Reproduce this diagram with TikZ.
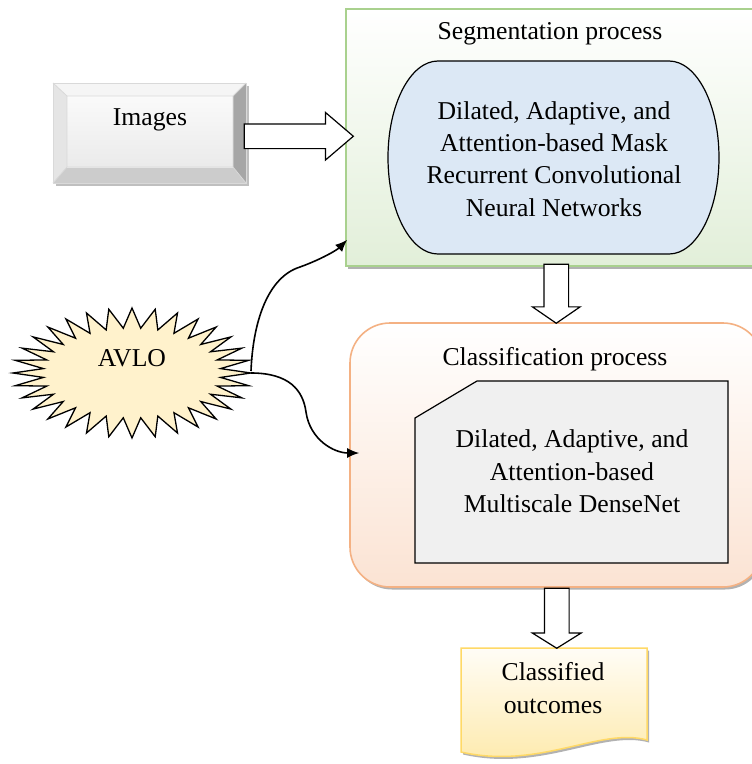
\documentclass[tikz,border=0pt]{standalone}
\usepackage{fontspec}
\setmainfont{Liberation Serif}
\usetikzlibrary{arrows.meta,shapes.arrows,shadows,calc}
\definecolor{segborder}{HTML}{A9D18E}
\definecolor{segfill}{HTML}{E2EFD9}
\definecolor{netfill}{HTML}{DCE8F5}
\definecolor{clsborder}{HTML}{F4B183}
\definecolor{clsfill}{HTML}{FBE3D3}
\definecolor{densefill}{HTML}{F0F0F0}
\definecolor{docborder}{HTML}{FFD966}
\definecolor{docfill}{HTML}{FEE9A8}
\definecolor{starfill}{HTML}{FFF2CC}
\tikzset{
  softshadow/.style={drop shadow={shadow xshift=2pt,shadow yshift=-2.5pt,fill=black,opacity=0.3}},
  segbox/.style={draw=segborder,line width=1.6pt,top color=white,bottom color=segfill,softshadow},
  clsbox/.style={draw=clsborder,line width=1.6pt,top color=white,bottom color=clsfill,rounded corners=40pt,softshadow},
  netshape/.style={draw=black,line width=1.2pt,fill=netfill},
  denseshape/.style={draw=black,line width=1.2pt,fill=densefill},
  docshape/.style={draw=docborder,line width=1.5pt,top color=white!90!docfill,bottom color=docfill,softshadow},
  starshape/.style={draw=black,line width=1.3pt,fill=starfill},
  holder/.style={inner sep=0pt,outer sep=0pt},
  blockarrow/.style={single arrow,draw=black,fill=white,line width=1.2pt,inner sep=11.75pt,outer sep=0pt},
  conn/.style={line width=1.6pt,-{Latex[length=12pt,width=10pt]}},
  txt/.style={align=center,inner sep=0pt}
}
\begin{document}
\begin{tikzpicture}[x=1pt,y=-1pt,font=\fontsize{25.7}{32.3}\selectfont]
\useasboundingbox[fill=white] (0,0) rectangle (752,764);

% ---------- Images (bevel) ----------
\node[holder,minimum width=193pt,minimum height=100pt] (img) at (149.5,133) {};
\fill[black!25] (56,86) rectangle (249,186);
\fill[black!4] (53,83) -- (246,83) -- (233,96) -- (67,96) -- cycle;
\fill[black!10] (53,83) -- (67,96) -- (67,167) -- (53,183) -- cycle;
\fill[black!20] (53,183) -- (67,167) -- (233,167) -- (246,183) -- cycle;
\fill[black!35] (246,83) -- (246,183) -- (233,167) -- (233,96) -- cycle;
\shade[top color=black!2,bottom color=black!8] (67,96) rectangle (233,167);
\draw[black!15,line width=1pt] (53,83) rectangle (246,183);
\draw[black!15,line width=0.8pt] (67,96) rectangle (233,167)
  (53,83) -- (67,96) (246,83) -- (233,96) (53,183) -- (67,167) (246,183) -- (233,167);
\node[txt] (imgtext) at (150,120) {Images};

% ---------- Segmentation process ----------
\node[segbox,minimum width=414pt,minimum height=257pt] (seg) at (553,137.5) {};
\node[txt] (segtitle) at (550,34) {Segmentation process};
\node[holder,minimum width=331pt,minimum height=193pt] (net) at (553.5,157.5) {};
\draw[netshape] (438,61) -- (669,61)
  arc[start angle=-90,end angle=90,x radius=50,y radius=96.5]
  -- (438,254)
  arc[start angle=90,end angle=270,x radius=50,y radius=96.5] -- cycle;
\node[txt] (nettext) at (554,159) {Dilated, Adaptive, and\\Attention-based Mask\\Recurrent Convolutional\\Neural Networks};

% ---------- Classification process ----------
\node[clsbox,minimum width=413pt,minimum height=264pt] (cls) at (556.5,455) {};
\node[txt] (clstitle) at (555,359) {Classification process};
\node[holder,minimum width=313pt,minimum height=182pt] (dense) at (571.5,472) {};
\draw[denseshape] (415,418) -- (477,381) -- (728,381) -- (728,563) -- (415,563) -- cycle;
\node[txt] (densetext) at (572,471.5) {Dilated, Adaptive, and\\Attention-based\\Multiscale DenseNet};

% ---------- Classified outcomes ----------
\node[holder,minimum width=186pt,minimum height=100pt] (doc) at (554,698) {};
\path[docshape] (461,648) -- (647,648) -- (647,740)
  .. controls (600,727) and (540,770) .. (461,752) -- cycle;
\node[txt] (doctext) at (553,688) {Classified\\outcomes};

% ---------- AVLO star ----------
\node[holder,minimum width=238pt,minimum height=130pt] (avlo) at (132,373) {};
\draw[starshape] plot[samples at={0,...,63},variable=\k]
  ({132+(119-30*mod(\k,2))*cos(5.625*\k)},{373+(65-20*mod(\k,2))*sin(5.625*\k)}) -- cycle;
\node[txt] (avlotext) at (132,358) {AVLO};

% ---------- block arrows ----------
\node[blockarrow,minimum height=109pt,single arrow head extend=11.5pt,single arrow tip angle=81]
  (a1) at ($(img.east)!0.5!(seg.west)+(-4,1)$) {};
\node[blockarrow,shape border rotate=270,minimum height=59pt,single arrow head extend=11.5pt,single arrow tip angle=111]
  (a2) at ($(seg.south)!0.5!(cls.north)+(1.5,-5)$) {};
\node[blockarrow,shape border rotate=270,minimum height=60pt,single arrow head extend=12pt,single arrow tip angle=116]
  (a3) at ($(cls.south)!0.5!(doc.north)+(1.5,-3.5)$) {};

% ---------- curved connectors ----------
\draw[conn] ([yshift=2pt]avlo.east) .. controls +(2,-50) and +(-32,10) .. ++(49,-104)
  .. controls +(22,-8) and +(-10,10) .. ([xshift=2pt,yshift=27pt]seg.south west);
\draw[conn] (avlo.east) .. controls +(38,0) and +(-3,-22) .. ++(55,39)
  .. controls +(4,28) and +(-25,0) .. ([xshift=10pt,yshift=2pt]cls.west);
\end{tikzpicture}
\end{document}
